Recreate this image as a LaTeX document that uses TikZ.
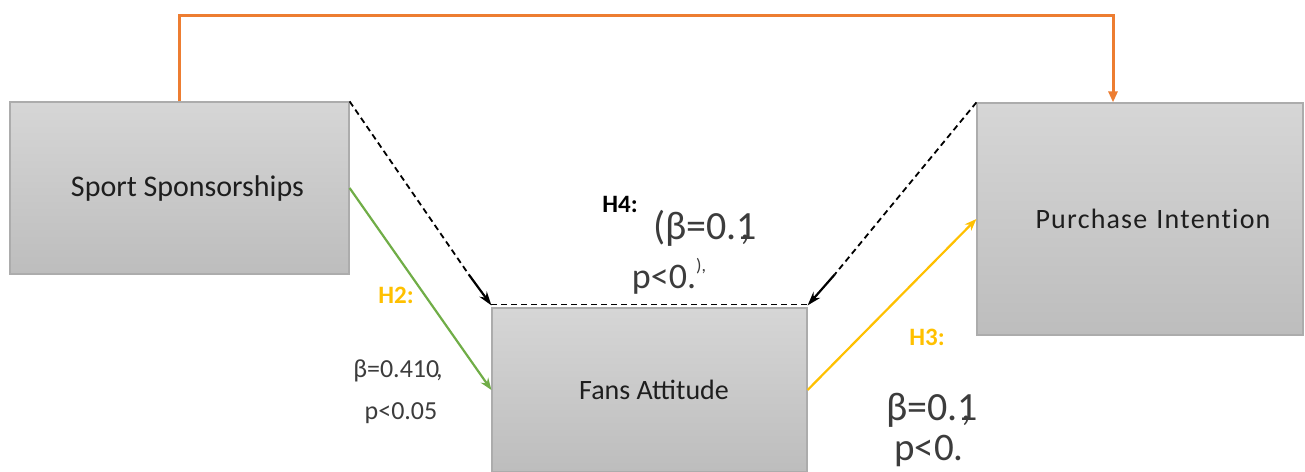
\documentclass[tikz,border=0pt]{standalone}
\usepackage{fontspec}
\setmainfont{Carlito}
\usetikzlibrary{arrows.meta,calc}
\definecolor{boxtop}{RGB}{214,214,214}
\definecolor{boxbot}{RGB}{189,189,189}
\definecolor{boxline}{RGB}{172,172,172}
\definecolor{oline}{RGB}{237,125,49}
\definecolor{gline}{RGB}{112,173,71}
\definecolor{yline}{RGB}{255,192,0}
\definecolor{txt}{RGB}{30,30,30}
\definecolor{ltxt}{RGB}{60,60,60}
\begin{document}
\begin{tikzpicture}[x=1pt,y=-1pt,
  box/.style={draw=boxline, line width=1.2pt, top color=boxtop, bottom color=boxbot,
              inner sep=0pt, text=txt},
  lbl/.style={inner sep=0pt, anchor=base, text=ltxt},
  hlbl/.style={inner sep=0pt, anchor=base, font=\fontsize{25}{30}\selectfont\bfseries},
  dashline/.style={black, line width=1.8pt, dash pattern=on 6pt off 4pt},
  tiparrow/.style={black, line width=2.2pt, -{Stealth[length=14pt,width=9pt]}},
  orangeline/.style={oline, line width=3pt, line join=miter, -{Triangle[length=11pt,width=9pt]}},
  greenline/.style={gline, line width=2.2pt, -{Stealth[length=12pt,width=9pt]}},
  yellowline/.style={yline, line width=2.2pt, -{Stealth[length=12pt,width=9pt]}}
]
\useasboundingbox (0,0) rectangle (1305,471);

% boxes
\node[box, minimum width=339pt, minimum height=172pt, font=\fontsize{30}{36}\selectfont]
  (ss) at (179.5,188) {\hspace*{16pt}Sport Sponsorships};
\node[box, minimum width=315pt, minimum height=164pt, font=\fontsize{28}{34}\selectfont]
  (fa) at (649.5,390) {\hspace*{9pt}Fans Attitude};
\node[box, minimum width=326pt, minimum height=232pt, font=\fontsize{28}{34}\selectfont]
  (pi) at (1140,219) {\hspace*{26pt}P\kern0.04em u\kern0.04em r\kern0.04em c\kern0.04em h\kern0.04em a\kern0.04em s\kern0.04em e\kern0.1em{} I\kern0.04em n\kern0.04em t\kern0.04em e\kern0.04em n\kern0.04em t\kern0.04em i\kern0.04em o\kern0.04em n};

% orange connector
\coordinate (o2) at (1113,15);
\draw[orangeline] (ss.north) |- (o2) -- (pi.north -| o2);

% dashed connectors (H4)
\draw[dashline] (ss.north east) -- ($(ss.north east)!0.84!(fa.north west)$);
\draw[tiparrow] ($(ss.north east)!0.84!(fa.north west)$) -- ([yshift=2pt]fa.north west);
\draw[dashline] (pi.north west) -- ($(pi.north west)!0.84!(fa.north east)$);
\draw[tiparrow] ($(pi.north west)!0.84!(fa.north east)$) -- ([yshift=2pt]fa.north east);
\draw[dashline] ([yshift=3pt]fa.north west) -- ([yshift=3pt]fa.north east);

% H2 and H3
\draw[greenline] (ss.east) -- (fa.west);
\draw[yellowline] (fa.east) -- (pi.west);

% labels
\node[hlbl, text=yline] (h2) at (396,303) {H2:};
\node[lbl, font=\fontsize{26}{30}\selectfont] (h2b) at (398,377) {β=0.410\kern-0.12em,};
\node[lbl, font=\fontsize{26}{30}\selectfont] (h2p) at (401,419) {p<0.05};

\node[hlbl, text=black] (h4) at (620,212) {H4:};
\node[lbl, font=\fontsize{40}{46}\selectfont] (h4b) at (704,239) {(β=0.1\kern-0.42em,\kern0.12em};
\node[lbl, font=\fontsize{36}{42}\selectfont] (h4p) at (669,288) {p<0.\raisebox{0.45em}{\fontsize{18}{20}\selectfont ),}};

\node[hlbl, text=yline] (h3) at (927,345) {H3:};
\node[lbl, font=\fontsize{40}{46}\selectfont] (h3b) at (931,420) {β=0.1\kern-0.42em,\kern0.12em};
\node[lbl, font=\fontsize{39}{44}\selectfont] (h3p) at (929,460) {p<0.};
\end{tikzpicture}
\end{document}
